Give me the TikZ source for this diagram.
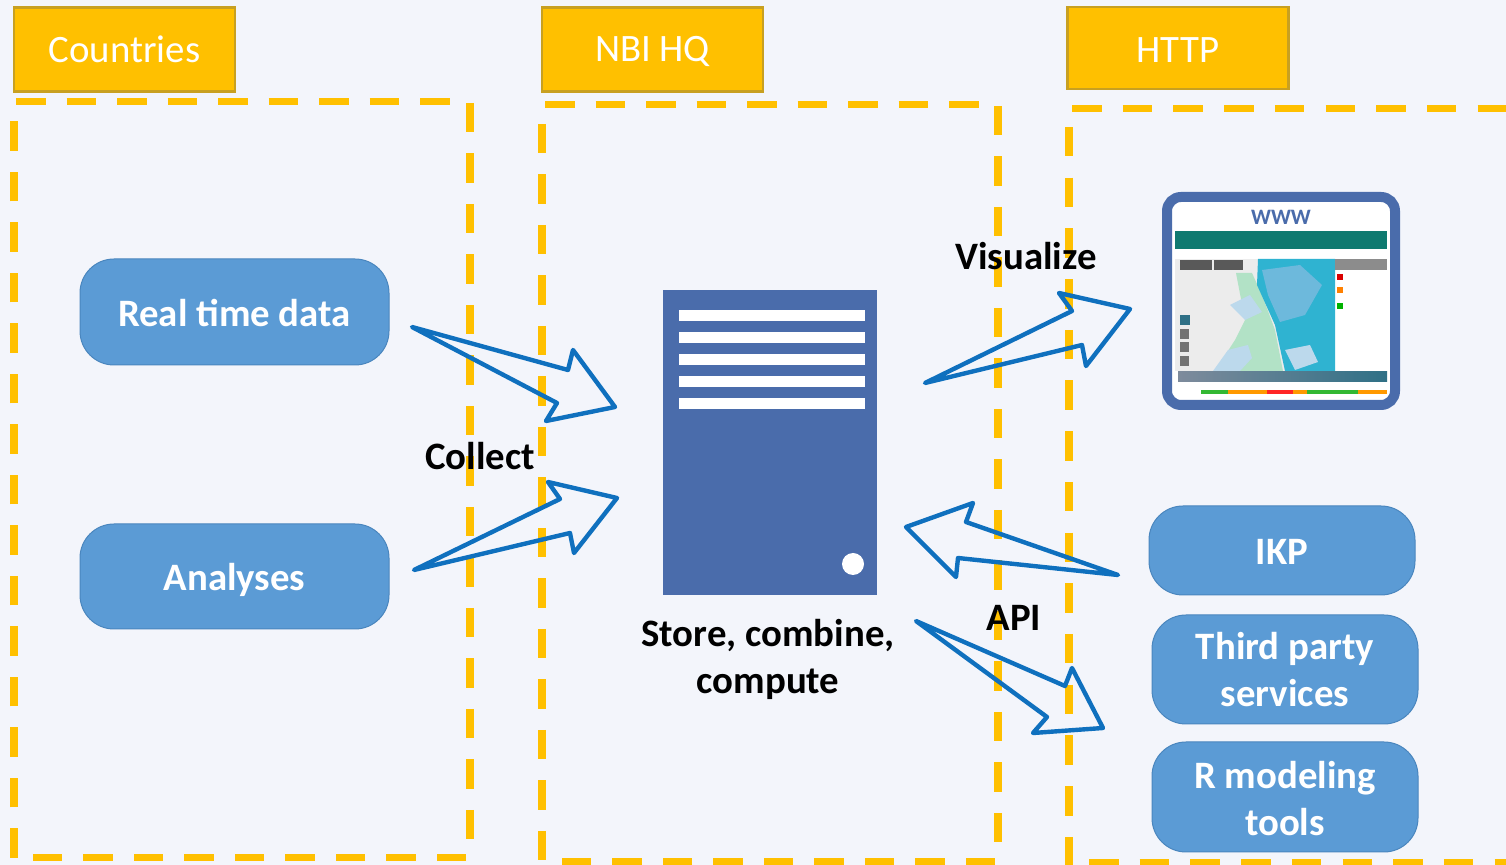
\documentclass[tikz,border=0pt]{standalone}
\usepackage{fontspec}
\setmainfont{Carlito}
\definecolor{bgc}{HTML}{F3F5FB}
\definecolor{gold}{HTML}{FFC000}
\definecolor{goldedge}{HTML}{C8A021}
\definecolor{pill}{HTML}{5B9BD5}
\definecolor{pilledge}{HTML}{4A86BE}
\definecolor{srv}{HTML}{4A6CAB}
\definecolor{arrowc}{HTML}{0F70BE}
\definecolor{teal}{HTML}{0F7A70}
\definecolor{mapcyan}{HTML}{2FB3D1}
\definecolor{mapblue}{HTML}{6DB9DC}
\definecolor{mapgreen}{HTML}{B2E2C6}
\definecolor{mapgrey}{HTML}{ECECEC}
\definecolor{mappale}{HTML}{BCD9EC}
\definecolor{barleft}{HTML}{7E8B9C}
\definecolor{barright}{HTML}{2F7086}
\newcommand{\dropby}[2]{\raisebox{-#1}[\height][\depth]{#2}}
\tikzset{
 x=0.5pt,y=-0.5pt,
 tagbox/.style={draw=goldedge,line width=1.1pt,fill=gold,text=white,minimum width=110.5pt,minimum height=42pt,inner sep=0pt,font=\fontsize{19.4}{22}\selectfont},
 pillbox/.style={draw=pilledge,line width=0.5pt,fill=pill,text=white,rounded corners=17pt,inner sep=0pt,align=center,font=\fontsize{19.4}{23.5}\selectfont\bfseries},
 zonev/.style={draw=gold,line width=4pt,dash pattern=on 14.75pt off 10.5pt},
 zoneh/.style={draw=gold,line width=3.5pt,dash pattern=on 14.75pt off 10.5pt},
 blockarrow/.style={draw=arrowc,line width=2.2pt,line join=round,fill=none},
 lab/.style={text=black,inner sep=0pt,align=center,font=\fontsize{19.4}{23.5}\selectfont\bfseries},
 slot/.style={fill=white,draw=none},
}
\begin{document}
\begin{tikzpicture}
\useasboundingbox (0,0) rectangle (1506,865);
\fill[bgc] (0,0) rectangle (1506,865);
% dashed zones
\draw[zoneh] (16,102) -- (452,102);
\draw[zonev] (14,858) -- (14,118);
\draw[zonev] (470,103) -- (470,842);
\draw[zoneh] (466,858) -- (33,858);
\draw[zoneh] (545,105) -- (980,105);
\draw[zonev] (542,124) -- (542,865);
\draw[zonev] (998,106) -- (998,846);
\draw[zoneh] (995,862) -- (560,862);
\draw[zoneh,dash pattern=on 14.75pt off 10.6pt] (1072,109) -- (1510,109);
\draw[zonev,dash pattern=on 14.75pt off 10.6pt] (1069,127) -- (1069,868);
\draw[zoneh,dash pattern=on 14.75pt off 10.6pt] (1089,863) -- (1510,863);
% tags
\node[tagbox] (tagA) at (124.5,49.5) {Countries};
\node[tagbox] (tagB) at (652.5,49.5) {\dropby{1pt}{NBI HQ}};
\node[tagbox,minimum height=41pt] (tagC) at (1178,48) {\dropby{1pt}{HTTP}};
% pills
\node[pillbox,minimum width=154.5pt,minimum height=53pt] (rt) at (234.5,312) {\dropby{0.5pt}{Real time data}};
\node[pillbox,minimum width=154.5pt,minimum height=52.5pt] (an) at (234.5,576.5) {\dropby{1.5pt}{Analyses}};
\node[pillbox,minimum width=133pt,minimum height=44.5pt] (ikp) at (1282,550.5) {\dropby{0.5pt}{IKP}};
\node[pillbox,minimum width=133pt,minimum height=54.5pt] (tp) at (1285,669.5) {Third party\\services};
\node[pillbox,minimum width=133pt,minimum height=55pt] (rm) at (1285,797) {\dropby{1pt}{R modeling}\\\dropby{1pt}{tools}};
% server
\node[fill=srv,draw=none,minimum width=107pt,minimum height=152.5pt,inner sep=0pt] (server) at (770,442.5) {};
\foreach \y in {316,338,360,382,404}{\fill[slot] (679,\y-5.5) rectangle (865,\y+5.5);}
\fill[white] (853,564) circle (5.5pt);
% screen
\fill[white] (1172,202) rectangle (1390,400);
\fill[teal] (1175,231) rectangle (1387,249);
\fill[mapgrey] (1175,259) rectangle (1335,371);
\fill[mapgreen] (1236,273) -- (1252,273) -- (1262,295) -- (1275,330) -- (1283,371) -- (1215,371) -- (1235,340) -- (1245,320) -- cycle;
\fill[mappale] (1213,371) -- (1228,350) -- (1248,345) -- (1252,358) -- (1240,371) -- cycle;
\fill[mappale] (1230,305) -- (1250,295) -- (1262,312) -- (1245,320) -- cycle;
\fill[mapcyan] (1258,259) -- (1335,259) -- (1335,371) -- (1285,371) -- (1275,325) -- (1257,285) -- cycle;
\fill[mapblue] (1262,270) -- (1300,265) -- (1322,285) -- (1305,315) -- (1280,322) -- (1268,295) -- cycle;
\fill[mappale] (1285,350) -- (1310,345) -- (1318,362) -- (1295,370) -- cycle;
\fill[black!65] (1180,260) rectangle (1212,270);
\fill[black!65] (1214,260) rectangle (1243,270);
\fill[black!45] (1335,259) rectangle (1387,270);
\fill[red!85!black] (1337,274) rectangle (1343,280);
\fill[orange] (1337,287) rectangle (1343,293);
\fill[green!70!black] (1337,303) rectangle (1343,309);
\fill[barright] (1180,315) rectangle (1190,325);
\foreach \y in {334,347,361}{\fill[black!55] (1180,\y-5) rectangle (1189,\y+5);}
\shade[left color=barleft,right color=barright] (1178,372) rectangle (1387,382);
\fill[green!65!black!80] (1201,390) rectangle (1228,394);
\fill[orange!80!yellow] (1228,390) rectangle (1267,394);
\fill[red!85] (1267,390) rectangle (1293,394);
\fill[orange!80!yellow] (1293,390) rectangle (1307,394);
\fill[green!65!black!80] (1307,390) rectangle (1358,394);
\fill[orange!80!yellow] (1358,390) rectangle (1387,394);
\node[draw=srv,line width=5pt,rounded corners=7pt,minimum width=114pt,minimum height=104pt,inner sep=0pt] (screen) at (1281,301) {};
\node[text=srv,inner sep=0pt,font=\fontsize{11}{12}\selectfont\bfseries] (www) at (1281,217) {WWW};
% labels
\node[lab] (collect) at (480,456) {Collect};
\node[lab] (viz) at (1026,256) {Visualize};
\node[lab] (api) at (1014,618) {API};
\node[lab] (store) at (768,659) {Store, combine,\\compute};
% block arrows
\coordinate (a1t) at (412,327); \coordinate (a1h) at (615,407);
\coordinate (a2t) at (414,570); \coordinate (a2h) at (617,498);
\coordinate (a3t) at (1118,575); \coordinate (a3h) at (906,527);
\coordinate (a4t) at (916,621); \coordinate (a4h) at (1103,728);
\coordinate (a5t) at (925,383); \coordinate (a5h) at (1130,309);
\draw[blockarrow] (a1t) -- (568,370) -- (573,350) -- (a1h) -- (546,421) -- (557,403) -- cycle;
\draw[blockarrow] (a2t) -- (560,499) -- (548,482) -- (a2h) -- (574,553) -- (570,533) -- cycle;
\draw[blockarrow] (a3t) -- (966,522) -- (973,503) -- (a3h) -- (956,577) -- (958,558) -- cycle;
\draw[blockarrow] (a4t) -- (1065,686) -- (1072,668) -- (a4h) -- (1033,733) -- (1047,717) -- cycle;
\draw[blockarrow] (a5t) -- (1072,311) -- (1059,293) -- (a5h) -- (1086,366) -- (1082,345) -- cycle;
\end{tikzpicture}
\end{document}
